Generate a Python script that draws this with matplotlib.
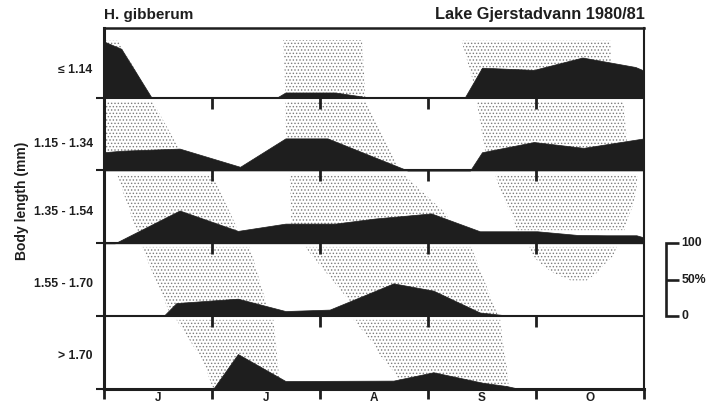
import matplotlib
matplotlib.use("Agg")
import matplotlib.pyplot as plt
import numpy as np

plt.rcParams['font.family'] = ['Liberation Sans', 'DejaVu Sans']
plt.rcParams['font.weight'] = 'bold'
plt.rcParams['hatch.linewidth'] = 0.6

INK = '#1e1e1e'
DOT = '#7c7c7c'

# x positions are in month units: 0 = start of June, 5 = end of October
months = ['J', 'J', 'A', 'S', 'O']
size_classes = ['≤ 1.14', '1.15 - 1.34', '1.35 - 1.54', '1.55 - 1.70', '> 1.70']
label_heights = [34, 32, 39, 40, 41]          # % of panel height for the class labels

# relative abundance (%) of each size class per sampling date
t_c1 = [0.0, 0.16, 0.44, 1.60, 1.68, 2.14, 2.39, 2.42, 3.34, 3.50, 3.98, 4.43, 4.92, 5.0]
p_c1 = [77, 67, 0, 0, 7, 7, 1.5, 0, 0, 41, 38, 55, 42, 37]

t_c2 = [0.0, 0.16, 0.70, 1.26, 1.68, 2.07, 2.81, 3.39, 3.50, 3.98, 4.44, 5.0]
p_c2 = [25, 27, 30, 5, 44, 44, 0, 0, 25, 39, 31, 44]

t_c3 = [0.0, 0.10, 0.70, 1.24, 1.68, 2.14, 2.51, 3.03, 3.48, 4.01, 4.38, 4.65, 4.93, 5.0]
p_c3 = [0, 0, 45, 17, 27, 27, 34, 41, 16.5, 16.5, 11.5, 11, 11, 8]

t_c4 = [0.0, 0.55, 0.67, 1.24, 1.68, 2.09, 2.68, 3.05, 3.48, 3.79, 5.0]
p_c4 = [0, 0, 18, 24, 7, 9, 45, 35, 5, 0, 0]

t_c5 = [0.0, 1.01, 1.24, 1.68, 2.68, 3.05, 3.51, 3.73, 3.85, 5.0]
p_c5 = [0, 0, 48, 11, 11.5, 23, 8.5, 4, 0, 0]

# cohort envelopes (month, % of panel) shaded with stipple in each size class
cohorts_c1 = [
    [(0.0, 78), (0.13, 78), (0.44, 0), (0.0, 0)],
    [(1.66, 79), (2.39, 79), (2.42, 0), (1.68, 0)],
    [(3.31, 78), (4.69, 78), (4.70, 0), (3.46, 0)],
]
cohorts_c2 = [
    [(0.0, 95), (0.45, 95), (0.69, 31), (0.80, 0), (0.0, 0)],
    [(1.68, 95), (2.42, 95), (2.68, 18), (2.73, 0), (1.69, 0)],
    [(3.45, 95), (4.81, 95), (4.84, 42), (4.85, 0), (3.56, 0)],
]
cohorts_c3 = [
    [(0.12, 95), (1.00, 95), (1.22, 25), (1.26, 0), (0.34, 0)],
    [(1.72, 95), (2.77, 95), (3.18, 39), (3.20, 0), (1.74, 0)],
    [(3.62, 95), (4.94, 95), (4.93, 73), (4.90, 52), (4.85, 35), (4.82, 18),
     (3.82, 18), (3.79, 35), (3.73, 52), (3.67, 73)],
]
cohorts_c4 = [
    [(0.35, 95), (1.35, 95), (1.50, 19), (1.51, 0), (0.62, 0)],
    [(1.86, 95), (3.40, 95), (3.65, 0), (2.39, 0)],
    [(3.93, 95), (4.75, 95), (4.71, 82), (4.62, 69), (4.57, 60), (4.47, 49),
     (4.32, 49), (4.15, 60), (4.07, 69), (3.97, 82)],
]
cohorts_c5 = [
    [(0.67, 95), (1.57, 95), (1.62, 19), (1.62, 0), (1.01, 0), (0.97, 17),
     (0.91, 40), (0.81, 63)],
    [(2.31, 95), (3.67, 95), (3.69, 67), (3.73, 30), (3.75, 0), (2.79, 0),
     (2.69, 22), (2.65, 30), (2.54, 49), (2.49, 63)],
]

times = [t_c1, t_c2, t_c3, t_c4, t_c5]
shares = [p_c1, p_c2, p_c3, p_c4, p_c5]
cohorts = [cohorts_c1, cohorts_c2, cohorts_c3, cohorts_c4, cohorts_c5]

PANEL = 100.0
n = len(size_classes)

fig = plt.figure(figsize=(7.08, 4.05), dpi=100)
ax = fig.add_axes([104 / 708, 16 / 405, 540 / 708, 361 / 405])
ax.set_xlim(0, 5)
ax.set_ylim(0, (n - 1) * PANEL + 95.5)

for k in range(n):
    base = (n - 1 - k) * PANEL
    for poly in cohorts[k]:
        xs = [p[0] for p in poly]
        ys = [base + p[1] for p in poly]
        ax.fill(xs, ys, facecolor='none', edgecolor=DOT, hatch='.....',
                lw=0, zorder=1)
    ax.fill_between(times[k], base, base + np.array(shares[k]),
                    color=INK, lw=0.5, zorder=2)
    ax.text(-0.105, base + label_heights[k], size_classes[k], ha='right',
            va='baseline', fontsize=8.8, color=INK)
    if k < n - 1:
        ax.axhline(base, color=INK, lw=1.5, zorder=4)
    if 0 < k:
        ax.vlines([1, 2, 3, 4], base + PANEL - 15, base + PANEL, color=INK,
                  lw=2.0, zorder=4)

# frame
for side, lw in [('top', 1.8), ('left', 2.2), ('right', 1.5), ('bottom', 2.2)]:
    ax.spines[side].set_linewidth(lw)
    ax.spines[side].set_color(INK)

ax.set_xticks(range(6))
ax.set_xticklabels([])
ax.tick_params(axis='x', direction='out', length=7.5, width=2.0, color=INK)
ax.set_yticks([k * PANEL for k in range(n)])
ax.set_yticklabels([])
ax.tick_params(axis='y', direction='out', length=6, width=1.5, color=INK)

for i, m in enumerate(months):
    ax.text(i + 0.5, -16.5, m, ha='center', va='baseline', fontsize=8.5,
            color=INK, clip_on=False)

# 0-100 % scale bar
xb0, xb1 = 5.205, 5.322
ax.plot([xb1, xb0, xb0, xb1], [2 * PANEL, 2 * PANEL, PANEL, PANEL],
        color=INK, lw=1.9, clip_on=False, solid_joinstyle='miter',
        solid_capstyle='butt')
ax.plot([xb0, xb1], [1.5 * PANEL, 1.5 * PANEL], color=INK, lw=1.9,
        clip_on=False, solid_capstyle='butt')
for yv, txt in [(2 * PANEL, '100'), (1.5 * PANEL, '50%'), (PANEL, '0')]:
    ax.text(5.345, yv, txt, ha='left', va='center', fontsize=8.8, color=INK,
            clip_on=False)

fig.text(104 / 708, 1 - 19.5 / 405, 'H. gibberum', ha='left', va='baseline',
         fontsize=11, color=INK)
fig.text(645 / 708, 1 - 19.5 / 405, 'Lake Gjerstadvann 1980/81', ha='right',
         va='baseline', fontsize=11.8, color=INK)
fig.text(22 / 708, 1 - 201 / 405, 'Body length (mm)', rotation=90,
         ha='center', va='center', fontsize=10, color=INK)

fig.savefig('out.png', dpi=100)
